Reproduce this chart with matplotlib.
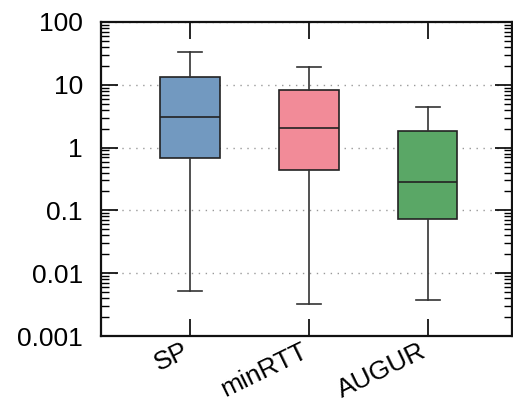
import matplotlib
matplotlib.use("Agg")
import matplotlib.pyplot as plt
from matplotlib.ticker import LogLocator, NullFormatter

plt.rcParams['font.family'] = ['Liberation Sans', 'DejaVu Sans']

# Per-scheme distribution summaries (log-scaled metric)
schemes = ["SP", "minRTT", "AUGUR"]
whisker_low = [0.0053, 0.0032, 0.0037]
q1 = [0.675, 0.445, 0.072]
median = [3.03, 2.03, 0.283]
q3 = [13.5, 8.27, 1.84]
whisker_high = [32.9, 19.4, 4.48]
colors = ["#7299c0", "#f28b98", "#5aa766"]

fig = plt.figure(figsize=(5.13, 4.04), dpi=100)
ax = fig.add_axes([101 / 513, 1 - 336 / 404, 411 / 513, 314 / 404])

stats = []
for i, name in enumerate(schemes):
    stats.append(dict(label=name, whislo=whisker_low[i], q1=q1[i], med=median[i],
                      q3=q3[i], whishi=whisker_high[i], fliers=[]))

positions = [1, 2, 3]
bp = ax.bxp(stats, positions=positions, widths=0.5, patch_artist=True,
            showfliers=False, capwidths=0.2,
            boxprops=dict(edgecolor="#222222", linewidth=1.2),
            medianprops=dict(color="#222222", linewidth=1.2),
            whiskerprops=dict(color="#333333", linewidth=1.2),
            capprops=dict(color="#333333", linewidth=1.2))
for patch, c in zip(bp["boxes"], colors):
    patch.set_facecolor(c)

ax.set_yscale("log")
ax.set_ylim(0.001, 100)
ax.set_xlim(0.25, 3.71)

ax.yaxis.set_minor_locator(LogLocator(base=10, subs=range(2, 10), numticks=20))
ax.yaxis.set_minor_formatter(NullFormatter())
ax.set_yticks([0.001, 0.01, 0.1, 1, 10, 100])
ax.set_yticklabels(["0.001", "0.01", "0.1", "1", "10", "100"])

ax.set_xticks(positions)
ax.set_xticklabels(schemes, rotation=26, ha="right", va="baseline", rotation_mode="anchor")

ax.tick_params(axis="y", which="major", direction="in", length=12, width=1.2,
               left=True, right=True, labelsize=19, pad=13)
ax.tick_params(axis="y", which="minor", direction="in", length=6, width=1.0,
               left=True, right=True)
ax.tick_params(axis="x", which="major", direction="in", length=12, width=1.2,
               top=True, bottom=True, labelsize=19, pad=14.5)
ax.tick_params(axis="x", which="minor", bottom=False, top=False)

ax.yaxis.grid(True, which="major", linestyle=(0, (1, 4)), color="#999999", linewidth=1)
ax.set_axisbelow(True)

for s in ax.spines.values():
    s.set_linewidth(1.6)
    s.set_color("#111111")

fig.savefig("out.png", dpi=100)
